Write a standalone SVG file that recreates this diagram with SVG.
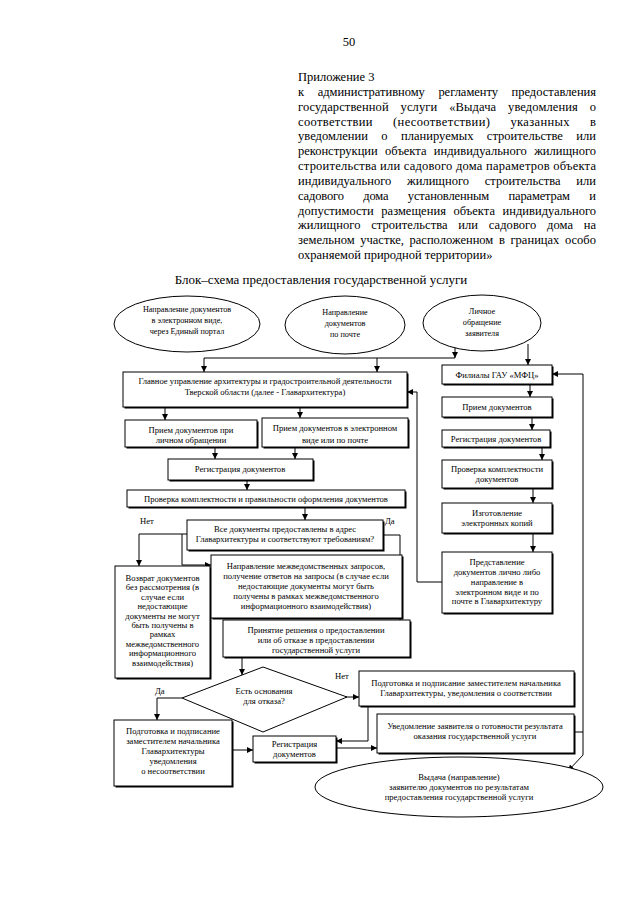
<svg xmlns="http://www.w3.org/2000/svg" width="640" height="905" viewBox="0 0 640 905">
<defs>
<marker id="ah" viewBox="0 0 10 10" refX="10" refY="5" markerWidth="6" markerHeight="6" markerUnits="userSpaceOnUse" orient="auto"><path d="M0,0 L10,5 L0,10 z" fill="#000"/></marker>
<style>
.hd{font-family:"Liberation Serif","Times New Roman",serif;font-size:12.5px;fill:#000}
.tt{font-family:"Liberation Serif","Times New Roman",serif;font-size:13px;fill:#000}
.t{font-family:"Liberation Serif","Times New Roman",serif;font-size:8.6px;fill:#000;text-anchor:middle}
.te{font-family:"Liberation Serif","Times New Roman",serif;font-size:8.2px;fill:#000;text-anchor:middle}
.lb{font-family:"Liberation Serif","Times New Roman",serif;font-size:8.6px;fill:#000}
.bx{fill:#fff;stroke:#000;stroke-width:1}
.sh{fill:#000;stroke:none}
.el{fill:#fff;stroke:#000;stroke-width:1}
.c{fill:none;stroke:#000;stroke-width:1}
.ca{fill:none;stroke:#000;stroke-width:1;marker-end:url(#ah)}
</style>
</defs>
<rect width="640" height="905" fill="#fff"/>

<g id="header">
<text class="hd" x="349" y="46" text-anchor="middle">50</text>
<text class="hd" x="298" y="81">Приложение 3</text>
<text class="hd" x="298" y="95.8" word-spacing="10.5" textLength="298" lengthAdjust="spacing">к административному регламенту предоставления</text>
<text class="hd" x="298" y="110.7" word-spacing="8.6" textLength="298" lengthAdjust="spacing">государственной услуги «Выдача уведомления о</text>
<text class="hd" x="298" y="125.5" word-spacing="16.8" textLength="298" lengthAdjust="spacing">соответствии (несоответствии) указанных в</text>
<text class="hd" x="298" y="140.3" word-spacing="10.2" textLength="298" lengthAdjust="spacing">уведомлении о планируемых строительстве или</text>
<text class="hd" x="298" y="155.2" word-spacing="4.3" textLength="298" lengthAdjust="spacing">реконструкции объекта индивидуального жилищного</text>
<text class="hd" x="298" y="170" textLength="298" lengthAdjust="spacing">строительства или садового дома параметров объекта</text>
<text class="hd" x="298" y="184.8" word-spacing="12.6" textLength="298" lengthAdjust="spacing">индивидуального жилищного строительства или</text>
<text class="hd" x="298" y="199.7" word-spacing="16.5" textLength="298" lengthAdjust="spacing">садового дома установленным параметрам и</text>
<text class="hd" x="298" y="214.5" word-spacing="4.3" textLength="298" lengthAdjust="spacing">допустимости размещения объекта индивидуального</text>
<text class="hd" x="298" y="229.3" word-spacing="7.5" textLength="298" lengthAdjust="spacing">жилищного строительства или садового дома на</text>
<text class="hd" x="298" y="244.2" word-spacing="2.5" textLength="298" lengthAdjust="spacing">земельном участке, расположенном в границах особо</text>
<text class="hd" x="298" y="259">охраняемой природной территории»</text>
</g>

<g id="title"><text class="tt" x="321" y="284" text-anchor="middle">Блок–схема предоставления государственной услуги</text></g>

<g id="connectors">
<path class="ca" d="M455,347 V358"/>
<path class="c" d="M455,358 H204"/>
<path class="ca" d="M204,358 V372"/>
<path class="ca" d="M377,358 V372"/>
<path class="ca" d="M528,344 V365"/>
<path class="ca" d="M165,407 V420"/>
<path class="ca" d="M300,407 V418"/>
<path class="ca" d="M215,447 V459"/>
<path class="ca" d="M295,447 V459"/>
<path class="ca" d="M247,480 V490"/>
<path class="ca" d="M305,507 V520"/>
<path class="ca" d="M187,534 H139 V566"/>
<path class="ca" d="M182,534 V565 H211"/>
<path class="ca" d="M383,535 H400 V620"/>
<path class="ca" d="M242,657 V675"/>
<path class="ca" d="M182,698 H157 V720"/>
<path class="ca" d="M345,697 H359"/>
<path class="ca" d="M232,750 H253"/>
<path class="ca" d="M368,706 V741 H336"/>
<path class="ca" d="M336,748 H377"/>
<path class="ca" d="M530,384 V397"/>
<path class="ca" d="M532,417 V430"/>
<path class="ca" d="M542,447 V460"/>
<path class="ca" d="M533,488 V503"/>
<path class="ca" d="M533,533 V552"/>
<path class="ca" d="M442,582 H417 V392 H407"/>
<path class="c" d="M574,732 H583"/>
<path class="ca" d="M583,755 V374 H552"/>
<path class="ca" d="M583,755 L568,771"/>
</g>

<g id="n-portal"><ellipse class="el" cx="187" cy="324" rx="73" ry="28"/>
<text class="te" x="187" y="312">Направление документов</text><text class="te" x="187" y="323">в электронном виде,</text><text class="te" x="187" y="334">через Единый портал</text></g>
<g id="n-post"><ellipse class="el" cx="345" cy="325" rx="60" ry="29"/>
<text class="te" x="345" y="315">Направление</text><text class="te" x="345" y="326">документов</text><text class="te" x="345" y="337">по почте</text></g>
<g id="n-personal"><ellipse class="el" cx="482" cy="323" rx="59" ry="28"/>
<text class="te" x="482" y="314">Личное</text><text class="te" x="482" y="325">обращение</text><text class="te" x="482" y="336">заявителя</text></g>

<g id="n-glav"><rect class="sh" x="124.5" y="373.5" width="284" height="35"/><rect class="bx" x="123" y="372" width="284" height="35"/>
<text class="t" x="265" y="384">Главное управление архитектуры и градостроительной деятельности</text><text class="t" x="265" y="395">Тверской области (далее - Главархитектура)</text></g>
<g id="n-recv-personal"><rect class="sh" x="126.5" y="421.5" width="132" height="27"/><rect class="bx" x="125" y="420" width="132" height="27"/>
<text class="t" x="191" y="433">Прием документов при</text><text class="t" x="191" y="443">личном обращении</text></g>
<g id="n-recv-el"><rect class="sh" x="263.5" y="419.5" width="146" height="29"/><rect class="bx" x="262" y="418" width="146" height="29"/>
<text class="t" x="335" y="431">Прием документов в электронном</text><text class="t" x="335" y="443">виде или по почте</text></g>
<g id="n-reg1"><rect class="sh" x="169.5" y="460.5" width="145" height="21"/><rect class="bx" x="168" y="459" width="145" height="21"/>
<text class="t" x="240" y="472">Регистрация документов</text></g>
<g id="n-check1"><rect class="sh" x="128.5" y="491.5" width="278" height="17"/><rect class="bx" x="127" y="490" width="278" height="17"/>
<text class="t" x="266" y="501.5">Проверка комплектности и правильности оформления документов</text></g>
<g id="n-question"><rect class="sh" x="188.5" y="521.5" width="196" height="30"/><rect class="bx" x="187" y="520" width="196" height="30"/>
<text class="t" x="285" y="532">Все документы предоставлены в адрес</text><text class="t" x="285" y="542">Главархитектуры и соответствуют требованиям?</text></g>
<g id="n-return"><rect class="sh" x="116.5" y="567.5" width="95" height="112"/><rect class="bx" x="115" y="566" width="95" height="112"/>
<text class="t" x="162.5" y="581">Возврат документов</text><text class="t" x="162.5" y="590.4">без рассмотрения (в</text><text class="t" x="162.5" y="599.8">случае если</text><text class="t" x="162.5" y="609.2">недостающие</text><text class="t" x="162.5" y="618.6">документы не могут</text><text class="t" x="162.5" y="628">быть получены в</text><text class="t" x="162.5" y="637.4">рамках</text><text class="t" x="162.5" y="646.8">межведомственного</text><text class="t" x="162.5" y="656.2">информационного</text><text class="t" x="162.5" y="665.6">взаимодействия)</text></g>
<g id="n-interagency"><rect class="sh" x="212.5" y="556.5" width="191" height="63"/><rect class="bx" x="211" y="555" width="191" height="63"/>
<text class="t" x="306" y="569">Направление межведомственных запросов,</text><text class="t" x="306" y="579">получение ответов на запросы (в случае если</text><text class="t" x="306" y="589">недостающие документы могут быть</text><text class="t" x="306" y="599">получены в рамках межведомственного</text><text class="t" x="306" y="609">информационного взаимодействия)</text></g>
<g id="n-decision"><rect class="sh" x="224.5" y="621.5" width="187" height="37"/><rect class="bx" x="223" y="620" width="187" height="37"/>
<text class="t" x="316" y="633">Принятие решения о предоставлении</text><text class="t" x="316" y="643">или об отказе в предоставлении</text><text class="t" x="316" y="653">государственной услуги</text></g>
<g id="n-refusal"><path class="bx" d="M263,667 L347,697 L263,732 L182,698 Z"/>
<text class="t" x="264" y="694">Есть основания</text><text class="t" x="264" y="704">для отказа?</text></g>
<g id="n-nonconf"><rect class="sh" x="115.5" y="721.5" width="118" height="66"/><rect class="bx" x="114" y="720" width="118" height="66"/>
<text class="t" x="173" y="734">Подготовка и подписание</text><text class="t" x="173" y="744">заместителем начальника</text><text class="t" x="173" y="754">Главархитектуры</text><text class="t" x="173" y="764">уведомления</text><text class="t" x="173" y="774">о несоответствии</text></g>
<g id="n-reg2"><rect class="sh" x="254.5" y="737.5" width="83" height="26"/><rect class="bx" x="253" y="736" width="83" height="26"/>
<text class="t" x="294.5" y="747">Регистрация</text><text class="t" x="294.5" y="757">документов</text></g>
<g id="n-conf"><rect class="sh" x="360.5" y="672.5" width="215" height="35"/><rect class="bx" x="359" y="671" width="215" height="35"/>
<text class="t" x="466" y="686">Подготовка и подписание заместителем начальника</text><text class="t" x="466" y="696">Главархитектуры, уведомления  о соответствии</text></g>
<g id="n-notify"><rect class="sh" x="378.5" y="715.5" width="197" height="39"/><rect class="bx" x="377" y="714" width="197" height="39"/>
<text class="t" x="475" y="729">Уведомление заявителя о готовности результата</text><text class="t" x="475" y="739">оказания государственной услуги</text></g>
<g id="n-issue"><ellipse class="el" cx="459" cy="787" rx="144" ry="30"/>
<text class="t" x="459" y="780">Выдача (направление)</text><text class="t" x="459" y="790">заявителю документов по результатам</text><text class="t" x="459" y="800">предоставления государственной услуги</text></g>

<g id="n-mfc"><rect class="sh" x="443.5" y="366.5" width="110" height="19"/><rect class="bx" x="442" y="365" width="110" height="19"/>
<text class="t" x="497" y="377.5">Филиалы ГАУ «МФЦ»</text></g>
<g id="n-mfc-recv"><rect class="sh" x="443.5" y="398.5" width="110" height="20"/><rect class="bx" x="442" y="397" width="110" height="20"/>
<text class="t" x="497" y="410">Прием документов</text></g>
<g id="n-mfc-reg"><rect class="sh" x="443.5" y="431.5" width="108" height="17"/><rect class="bx" x="442" y="430" width="108" height="17"/>
<text class="t" x="496" y="441.5">Регистрация документов</text></g>
<g id="n-mfc-check"><rect class="sh" x="443.5" y="461.5" width="110" height="28"/><rect class="bx" x="442" y="460" width="110" height="28"/>
<text class="t" x="497" y="472">Проверка комплектности</text><text class="t" x="497" y="482">документов</text></g>
<g id="n-mfc-copies"><rect class="sh" x="443.5" y="504.5" width="110" height="30"/><rect class="bx" x="442" y="503" width="110" height="30"/>
<text class="t" x="497" y="516">Изготовление</text><text class="t" x="497" y="526">электронных копий</text></g>
<g id="n-mfc-send"><rect class="sh" x="443.5" y="553.5" width="110" height="61"/><rect class="bx" x="442" y="552" width="110" height="61"/>
<text class="t" x="497" y="565">Представление</text><text class="t" x="497" y="575">документов лично либо</text><text class="t" x="497" y="585">направление  в</text><text class="t" x="497" y="594.5">электронном виде и по</text><text class="t" x="497" y="604">почте в Главархитектуру</text></g>

<g id="labels">
<text class="lb" x="140" y="524">Нет</text>
<text class="lb" x="385" y="524">Да</text>
<text class="lb" x="155" y="694">Да</text>
<text class="lb" x="335" y="679">Нет</text>
</g>
</svg>
